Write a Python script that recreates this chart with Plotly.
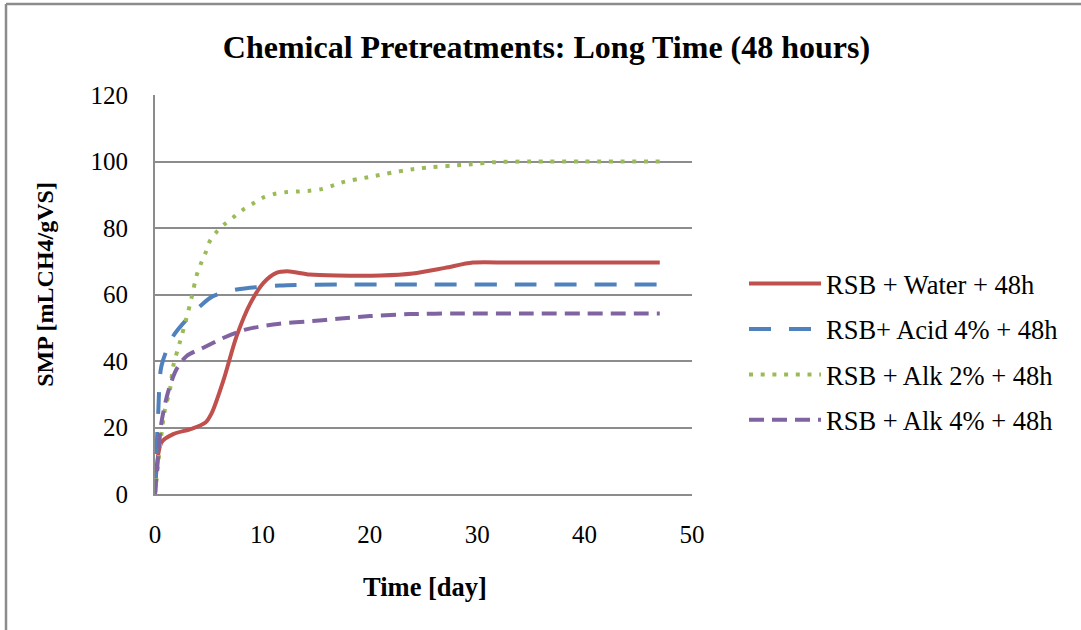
import plotly.graph_objects as go

# ---- data ----
water_t = [0, 0.6, 1.7, 3.3, 4.7, 5.3, 6.4, 7.6, 8.9, 10.1, 11.3, 12.3, 14.4, 17, 21, 24, 27, 29.6, 33, 40, 47]
water_y = [0, 15.5, 18, 19.5, 21.5, 24.5, 34.5, 47.5, 57.5, 63.5, 66.5, 67, 66, 65.7, 65.7, 66.3, 68, 69.6, 69.6, 69.6, 69.6]

acid_t = [0, 0.3, 0.6, 1.7, 2.95, 4.2, 5.4, 7.6, 11.6, 17, 25, 35, 47]
acid_y = [0, 24.5, 38.5, 47.5, 52.5, 56.5, 59.5, 61.5, 62.7, 63, 63, 63, 63]

alk2_t = [0, 0.6, 0.9, 1.4, 1.7, 2.3, 2.9, 3.4, 3.9, 4.3, 4.7, 5.1, 5.7, 6.5, 7.4, 8.2, 9.2, 10.1,
          11.2, 12.3, 13.4, 14.4, 15.5, 16.6, 17.5, 19.7, 24, 29.5, 31.7, 35, 40, 47]
alk2_y = [0, 18, 25, 31.5, 38.5, 45.5, 52.5, 59, 66, 69.5, 72.5, 76, 78.7, 81.2, 83.5, 85.5, 87.5, 89.2,
          90.3, 90.8, 91, 91.2, 91.7, 92.8, 93.8, 95.2, 97.7, 99.2, 99.8, 100, 100, 100]

alk4_t = [0, 0.3, 0.6, 1.2, 2, 2.95, 4.5, 6.4, 8.5, 11.6, 14.7, 17, 20, 23.7, 28, 35, 47]
alk4_y = [0, 11.5, 21.5, 30.5, 37.5, 41.5, 44, 47, 49.5, 51.2, 52, 52.7, 53.5, 54.1, 54.3, 54.3, 54.3]

names = ["RSB + Water + 48h", "RSB+ Acid 4% + 48h", "RSB + Alk 2% + 48h", "RSB + Alk 4% + 48h"]
colors = ["#C0504D", "#4F81BD", "#9BBB59", "#8064A2"]
dashes = ["solid", "22px,18px", "4px,7.7px", "15px,8px"]

FONT = "Liberation Serif"

fig = go.Figure()
for i, (t, y) in enumerate([(water_t, water_y), (acid_t, acid_y), (alk2_t, alk2_y), (alk4_t, alk4_y)]):
    fig.add_trace(go.Scatter(
        x=t, y=y, mode="lines", name=names[i], legendgroup=f"g{i}",
        line=dict(color=colors[i], width=4, dash=dashes[i], shape="spline", smoothing=0.8),
    ))

W, H = 1081, 630
L, R, T, B = 155, 692, 95, 494.5
pw, ph = R - L, B - T

def px(xpix):
    return (xpix - L) / pw

def py(ypix):
    return (B - ypix) / ph

fig.update_layout(
    width=W, height=H,
    margin=dict(l=L, r=W - R, t=T, b=H - B),
    paper_bgcolor="white", plot_bgcolor="white",
    font=dict(family=FONT, size=25, color="black"),
    showlegend=True,
    title=dict(text="<b>Chemical Pretreatments: Long Time (48 hours)</b>",
               x=546.5 / W, xref="container", xanchor="center",
               y=1 - 47 / H, yanchor="middle",
               font=dict(family=FONT, size=32, color="black")),
    legend=dict(x=px(744), xanchor="left", y=py(260), yanchor="top",
                font=dict(family=FONT, size=26.5, color="black"),
                itemwidth=72, tracegroupgap=8, traceorder="grouped",
                bgcolor="rgba(0,0,0,0)"),
    xaxis=dict(range=[0, 50], tickvals=[0, 10, 20, 30, 40, 50], showgrid=False,
               showline=True, linecolor="#8C8C8C", linewidth=2, zeroline=False,
               ticks="", ticklabelstandoff=17, tickfont=dict(family=FONT, size=25)),
    yaxis=dict(range=[0, 120], tickvals=[0, 20, 40, 60, 80, 100, 120], showgrid=True,
               gridcolor="#8C8C8C", gridwidth=2,
               showline=True, linecolor="#8C8C8C", linewidth=2, zeroline=False,
               ticks="", ticklabelstandoff=20, tickfont=dict(family=FONT, size=25)),
    annotations=[
        dict(text="<b>Time [day]</b>", xref="paper", yref="paper", x=px(425), y=py(588),
             xanchor="center", yanchor="middle", showarrow=False,
             font=dict(family=FONT, size=26.5, color="black")),
        dict(text="<b>SMP [mLCH4/gVS]</b>", xref="paper", yref="paper", x=px(45), y=py(285),
             xanchor="center", yanchor="middle", showarrow=False, textangle=-90,
             font=dict(family=FONT, size=24, color="black")),
    ],
    shapes=[
        dict(type="line", xref="paper", yref="paper", x0=px(6), x1=px(6), y0=py(640), y1=py(4),
             line=dict(color="#8C8C8C", width=2.5)),
        dict(type="line", xref="paper", yref="paper", x0=px(6), x1=px(1100), y0=py(4), y1=py(4),
             line=dict(color="#8C8C8C", width=2.5)),
    ],
)

fig.write_html("out.html")
